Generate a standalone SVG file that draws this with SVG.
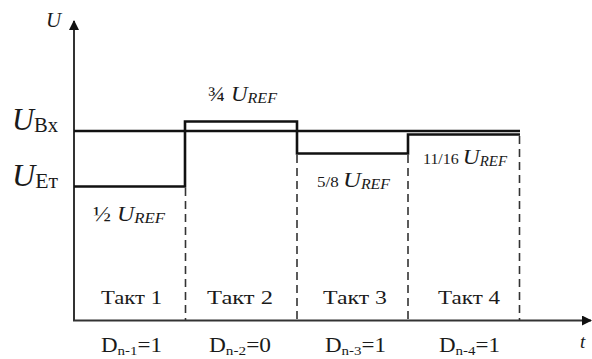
<svg xmlns="http://www.w3.org/2000/svg" width="592" height="359" viewBox="0 0 592 359" font-family="'Liberation Serif', 'DejaVu Serif', 'Times New Roman', serif">
<style>
text{font-family:'Liberation Serif','DejaVu Serif','Times New Roman',serif;fill:#1a1a1a}
.i{font-style:italic}
.axis{stroke:#333;stroke-width:2;fill:none}
.sig{stroke:#111;stroke-width:2.6;fill:none}
.dash{stroke:#333;stroke-width:1.6;stroke-dasharray:8 5;fill:none}
</style>
<defs>
<marker id="ah" viewBox="0 0 10 10" refX="9" refY="5" markerWidth="10" markerHeight="10" markerUnits="userSpaceOnUse" orient="auto">
<path d="M0,0 L10,5 L0,10 z" fill="#111"/>
</marker>
</defs>
<g id="connectors">
<line class="axis" x1="74" y1="321" x2="74" y2="21" marker-end="url(#ah)"/>
<line class="axis" x1="73" y1="320.5" x2="591" y2="320.5" marker-end="url(#ah)"/>
<line class="sig" x1="74" y1="131" x2="520" y2="131"/>
<polyline class="sig" points="74,186.5 185,186.5 185,121.5 297,121.5 297,153.5 408,153.5 408,134.5 520,134.5"/>
<line class="dash" x1="185.5" y1="188" x2="185.5" y2="320"/>
<line class="dash" x1="297" y1="155" x2="297" y2="320"/>
<line class="dash" x1="408" y1="155" x2="408" y2="320"/>
<line class="dash" x1="519.5" y1="136" x2="519.5" y2="320"/>
</g>
<g id="axis-labels">
<text class="i" x="46" y="27" font-size="21">U</text>
<text class="i" x="580" y="348" font-size="19">t</text>
</g>
<g id="u-bx">
<text x="12" y="130" font-size="31" textLength="46" lengthAdjust="spacingAndGlyphs"><tspan class="i">U</tspan><tspan font-size="21" dy="2">Bx</tspan></text>
</g>
<g id="u-et">
<text x="12" y="186" font-size="31" textLength="46" lengthAdjust="spacingAndGlyphs"><tspan class="i">U</tspan><tspan font-size="21" dy="2">Eт</tspan></text>
</g>
<g id="lvl-half">
<text x="93" y="221" font-size="20" textLength="72" lengthAdjust="spacingAndGlyphs">½ <tspan class="i">U</tspan><tspan class="i" font-size="14" dy="2">REF</tspan></text>
</g>
<g id="lvl-3-4">
<text x="208" y="101" font-size="20" textLength="69" lengthAdjust="spacingAndGlyphs">¾ <tspan class="i">U</tspan><tspan class="i" font-size="14" dy="2">REF</tspan></text>
</g>
<g id="lvl-5-8">
<text x="317" y="187" font-size="15" textLength="73" lengthAdjust="spacingAndGlyphs">5/8 <tspan class="i" font-size="22">U</tspan><tspan class="i" font-size="14" dy="2">REF</tspan></text>
</g>
<g id="lvl-11-16">
<text x="423" y="164" font-size="15" textLength="84" lengthAdjust="spacingAndGlyphs">11/16 <tspan class="i" font-size="22">U</tspan><tspan class="i" font-size="14" dy="2">REF</tspan></text>
</g>
<g id="takt1"><text x="101" y="304" font-size="19" textLength="61" lengthAdjust="spacingAndGlyphs">Такт 1</text></g>
<g id="takt2"><text x="207" y="304" font-size="19" textLength="66" lengthAdjust="spacingAndGlyphs">Такт 2</text></g>
<g id="takt3"><text x="323" y="304" font-size="19" textLength="64" lengthAdjust="spacingAndGlyphs">Такт 3</text></g>
<g id="takt4"><text x="438" y="304" font-size="19" textLength="62" lengthAdjust="spacingAndGlyphs">Такт 4</text></g>
<g id="d1"><text x="101" y="352" font-size="20" textLength="61" lengthAdjust="spacingAndGlyphs">D<tspan font-size="13" dy="3">n-1</tspan><tspan dy="-3">=1</tspan></text></g>
<g id="d2"><text x="209" y="352" font-size="20" textLength="62" lengthAdjust="spacingAndGlyphs">D<tspan font-size="13" dy="3">n-2</tspan><tspan dy="-3">=0</tspan></text></g>
<g id="d3"><text x="325" y="352" font-size="20" textLength="61" lengthAdjust="spacingAndGlyphs">D<tspan font-size="13" dy="3">n-3</tspan><tspan dy="-3">=1</tspan></text></g>
<g id="d4"><text x="439" y="352" font-size="20" textLength="61" lengthAdjust="spacingAndGlyphs">D<tspan font-size="13" dy="3">n-4</tspan><tspan dy="-3">=1</tspan></text></g>
</svg>
